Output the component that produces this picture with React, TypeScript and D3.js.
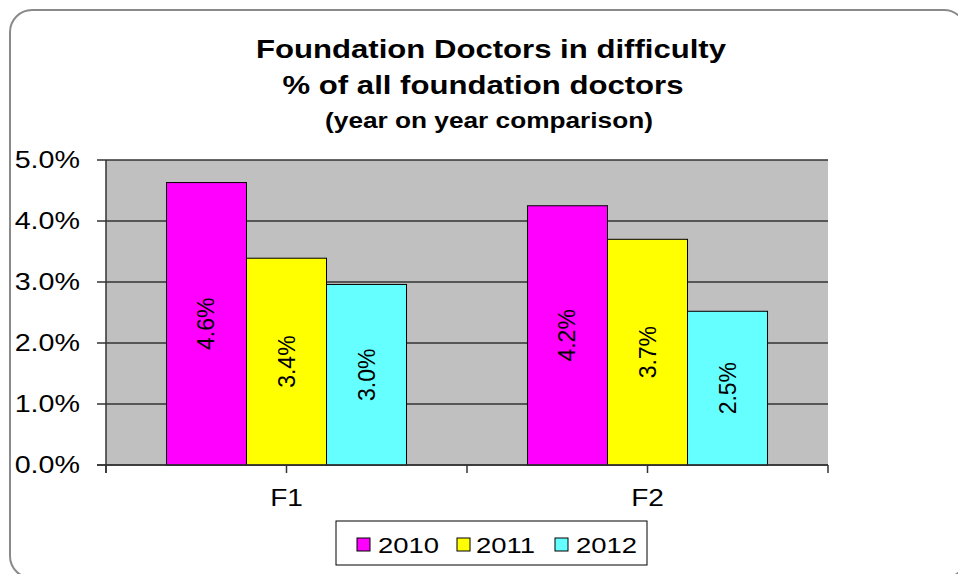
import React from "react";
import * as d3 from "d3";

const categories = ["F1", "F2"];
const seriesNames = ["2010", "2011", "2012"];
const values2010 = [4.63, 4.25];
const values2011 = [3.39, 3.7];
const values2012 = [2.96, 2.52];
const dataLabels2010 = ["4.6%", "4.2%"];
const dataLabels2011 = ["3.4%", "3.7%"];
const dataLabels2012 = ["3.0%", "2.5%"];
const yTicks = [0, 1, 2, 3, 4, 5];
const titleLines = ["Foundation Doctors in difficulty", "% of all foundation doctors"];
const subtitle = "(year on year comparison)";
const colors = ["#ff00ff", "#ffff00", "#66ffff"];

const W = 958;
const H = 574;
const SX = 1.22;
const FONT = "'Liberation Sans', Arial, sans-serif";

export default function App() {
  const series = [
    { name: seriesNames[0], values: values2010, labels: dataLabels2010, color: colors[0] },
    { name: seriesNames[1], values: values2011, labels: dataLabels2011, color: colors[1] },
    { name: seriesNames[2], values: values2012, labels: dataLabels2012, color: colors[2] },
  ];
  const plotL = 106, plotR = 828, plotT = 160, plotB = 465;
  const y = d3.scaleLinear().domain([0, 5]).range([plotB, plotT]);
  const x = d3.scaleBand().domain(categories).range([plotL, plotR]).paddingInner(0).paddingOuter(0);
  const x1 = d3.scaleBand().domain(seriesNames).range([0, x.bandwidth()]).paddingInner(0).paddingOuter(0.756);

  const xTickPos: number[] = [];
  categories.forEach((c) => {
    xTickPos.push(x(c)!);
    xTickPos.push(x(c)! + x.bandwidth() / 2);
  });
  xTickPos.push(plotR);

  const legendItems = [
    { sx: 357, tx: 378 },
    { sx: 457, tx: 476 },
    { sx: 555, tx: 576 },
  ];

  return (
    <svg width={W} height={H} style={{ position: "absolute", left: 0, top: 0, display: "block", background: "#fff" }}>
      <rect x={10} y={10} width={956} height={568} rx={22} ry={22} fill="#fff" stroke="#8a8a8a" strokeWidth={2} />
      {/* Title */}
      <g fontFamily={FONT} fontWeight="bold" fill="#000" textAnchor="middle">
        <text transform={`translate(491,58) scale(${SX},1)`} fontSize={25.5}>{titleLines[0]}</text>
        <text transform={`translate(483,94) scale(${SX},1)`} fontSize={25.5}>{titleLines[1]}</text>
        <text transform={`translate(489,128) scale(${SX},1)`} fontSize={21.5}>{subtitle}</text>
      </g>
      {/* Plot background */}
      <rect x={plotL} y={plotT} width={plotR - plotL} height={plotB - plotT} fill="#c0c0c0" />
      {/* Gridlines & y ticks */}
      {yTicks.map((t) => (
        <g key={t}>
          <line x1={97} x2={plotR} y1={y(t)} y2={y(t)} stroke="#333" strokeWidth={1.5} />
          <text
            transform={`translate(80,${y(t)}) scale(${SX},1)`}
            fontFamily={FONT}
            fontSize={23.5}
            textAnchor="end"
            dominantBaseline="central"
            fill="#000"
          >
            {t.toFixed(1) + "%"}
          </text>
        </g>
      ))}
      {/* Bars */}
      {series.map((s) =>
        categories.map((c, i) => {
          const bx = x(c)! + x1(s.name)!;
          const by = y(s.values[i]);
          const bw = x1.bandwidth();
          const bh = plotB - by;
          return (
            <g key={s.name + c}>
              <rect x={bx} y={by} width={bw} height={bh} fill={s.color} stroke="#000" strokeWidth={1} />
              <text
                transform={`translate(${bx + bw / 2},${by + bh / 2}) rotate(-90)`}
                fontFamily={FONT}
                fontSize={23}
                textAnchor="middle"
                dominantBaseline="central"
                fill="#000"
              >
                {s.labels[i]}
              </text>
            </g>
          );
        })
      )}
      {/* Axes */}
      <line x1={plotL} x2={plotL} y1={plotT} y2={plotB + 8} stroke="#333" strokeWidth={1.5} />
      <line x1={97} x2={plotR} y1={plotB} y2={plotB} stroke="#333" strokeWidth={1.5} />
      {xTickPos.map((p, i) => (
        <line key={i} x1={p} x2={p} y1={plotB} y2={plotB + 8} stroke="#333" strokeWidth={1.5} />
      ))}
      {categories.map((c) => (
        <text
          key={c}
          transform={`translate(${x(c)! + x.bandwidth() / 2},506) scale(${SX},1)`}
          fontFamily={FONT}
          fontSize={23}
          textAnchor="middle"
          fill="#000"
        >
          {c}
        </text>
      ))}
      {/* Legend */}
      <rect x={336} y={521} width={311} height={44} fill="#fff" stroke="#000" strokeWidth={1} />
      {series.map((s, i) => (
        <g key={s.name}>
          <rect x={legendItems[i].sx} y={538} width={13} height={13} fill={s.color} stroke="#000" strokeWidth={1} />
          <text
            transform={`translate(${legendItems[i].tx},553) scale(${SX},1)`}
            fontFamily={FONT}
            fontSize={22.5}
            fill="#000"
          >
            {s.name}
          </text>
        </g>
      ))}
    </svg>
  );
}
